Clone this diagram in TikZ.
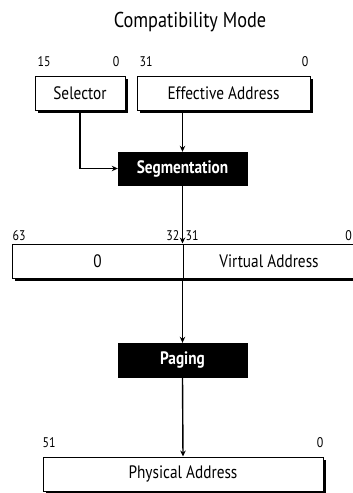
\documentclass[tikz,border=0pt]{standalone}
\usepackage{fontspec}
\setmainfont{PT Sans}[FakeStretch=0.85]
\usetikzlibrary{arrows.meta, shadows}
\tikzset{
  modefig/.style={
    x=1pt, y=1pt,
    >={Stealth[length=6pt, width=5.5pt]},
  },
  regbox/.style={
    draw, fill=white, line width=1pt, minimum height=34pt, inner sep=0pt,
    font=\fontsize{18}{20}\selectfont,
    drop shadow={shadow xshift=2.5pt, shadow yshift=-2.5pt, fill=black, opacity=1},
  },
  stagebox/.style={
    draw, fill=black, text=white, minimum width=129pt, minimum height=33pt,
    inner sep=0pt, font=\bfseries\fontsize{18}{20}\selectfont,
  },
  bitlabel/.style={inner sep=0pt, font=\fontsize{14}{16}\selectfont},
  flow/.style={->, line width=1.4pt},
}
\begin{document}
\begin{tikzpicture}[modefig]
  \clip (0,0) rectangle (353,-493);
  \node[font=\fontsize{21.5}{24}\selectfont] (title) at (190,-22) {Compatibility Mode};
  % Eingangsregister
  \node[regbox, minimum width=90pt] (sel) at (80,-93) {Selector};
  \node[regbox, minimum width=173pt] (eff) at (223.5,-93) {Effective Address};
  \node[bitlabel, anchor=south west] (sel15) at ([xshift=3pt, yshift=9pt]sel.north west) {15};
  \node[bitlabel, anchor=south east] (sel0) at ([xshift=-6pt, yshift=9pt]sel.north east) {0};
  \node[bitlabel, anchor=south west] (eff31) at ([xshift=3pt, yshift=9pt]eff.north west) {31};
  \node[bitlabel, anchor=south east] (eff0) at ([xshift=-2pt, yshift=9pt]eff.north east) {0};
  \node[stagebox] (seg) at (182.5,-168.5) {Segmentation};
  % virtuelle Adresse, 64 Bit
  \node[regbox, minimum width=171pt] (virthi) at (97.5,-261) {0};
  \node[regbox, minimum width=172pt] (virtlo) at (269,-261) {Virtual Address};
  \node[bitlabel, anchor=south west] (virt63) at ([xshift=1pt, yshift=3pt]virthi.north west) {63};
  \node[bitlabel, anchor=south east] (virt32) at ([xshift=-4pt, yshift=3pt]virthi.north east) {32};
  \node[bitlabel, anchor=south west] (virt31) at ([xshift=3pt, yshift=3pt]virtlo.north west) {31};
  \node[bitlabel, anchor=south east] (virt0) at ([xshift=-3.5pt, yshift=3pt]virtlo.north east) {0};
  \node[stagebox, minimum height=34pt] (pag) at (182.5,-360) {Paging};
  \node[regbox, minimum width=280pt] (phys) at (183,-474) {Physical Address};
  \node[bitlabel, anchor=south west] (phys51) at ([xshift=0pt, yshift=9pt]phys.north west) {51};
  \node[bitlabel, anchor=south east] (phys0) at ([xshift=0pt, yshift=9pt]phys.north east) {0};
  \draw[flow] (eff.south -| seg.north) -- (seg.north);
  \draw[flow] (sel.south) |- (seg.west);
  \draw[flow] (seg.south) -- (virtlo.north west);
  \draw[flow] (virtlo.south west) -- (pag.north);
  \draw[flow] (pag.south) -- (phys.north);
\end{tikzpicture}
\end{document}
